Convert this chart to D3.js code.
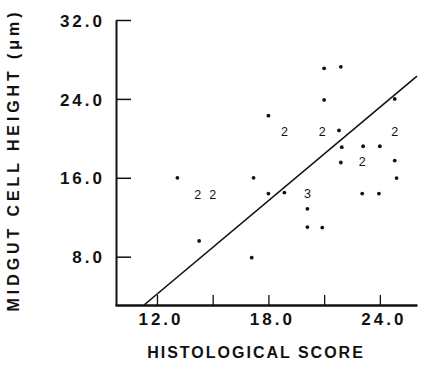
<!DOCTYPE html>
<html>
<head>
<meta charset="utf-8">
<script src="https://cdn.jsdelivr.net/npm/d3@7"></script>
<style>
  body { margin: 0; background: #fff; }
</style>
</head>
<body>
<svg id="chart" width="424" height="373"></svg>
<script>
// single points (histological score, cell height)
var scoreX = [13.1, 14.27, 17.2, 17.1, 18.0, 18.0, 21.0, 21.9, 21.0, 24.8, 21.8,
              21.95, 23.1, 24.0, 21.9, 24.8, 24.9, 18.86, 23.05, 23.95, 20.1, 20.1, 20.9];
var heightY = [16.0, 9.6, 16.0, 7.9, 22.3, 14.4, 27.1, 27.25, 23.9, 24.0, 20.8,
               19.1, 19.2, 19.2, 17.55, 17.75, 15.97, 14.5, 14.4, 14.4, 12.85, 11.0, 10.95];

// coincident points, drawn as a count
var multiX = [14.2, 15.0, 18.86, 20.9, 24.8, 23.05, 20.1];
var multiY = [14.3, 14.3, 20.7, 20.7, 20.7, 17.65, 14.4];
var multiN = ["2", "2", "2", "2", "2", "2", "3"];

// regression line y = a + b*x
var lineA = -14.76, lineB = 1.58;

var xTicks = [12, 15, 18, 21, 24];
var xLabels = ["12.0", "", "18.0", "", "24.0"];
var yTicks = [8, 16, 24, 32];
var yLabels = ["8.0", "16.0", "24.0", "32.0"];

var FONT = "'Liberation Sans', Arial, sans-serif";
var INK = "#111";

var svg = d3.select("#chart");
var x = d3.scaleLinear().domain([9.74, 26]).range([115, 417]);
var y = d3.scaleLinear().domain([3.1, 32]).range([305, 20]);

function boldLabels(sel, size, spacing) {
  sel.style("font-family", FONT)
    .style("font-size", size + "px")
    .style("font-weight", "bold")
    .style("letter-spacing", spacing + "px")
    .style("fill", INK);
}

// axes
var xAxis = d3.axisBottom(x).tickValues(xTicks).tickSize(-10).tickSizeOuter(0)
  .tickFormat(function(d, i) { return xLabels[i]; });
var yAxis = d3.axisLeft(y).tickValues(yTicks).tickSize(-15).tickSizeOuter(0)
  .tickFormat(function(d, i) { return yLabels[i]; });

var gx = svg.append("g").attr("transform", "translate(0,305)").call(xAxis);
gx.select(".domain").attr("stroke", INK).attr("stroke-width", 2.5);
gx.selectAll(".tick line").attr("stroke", INK).attr("stroke-width", 1.3);
gx.selectAll(".tick text").attr("x", 3.5).attr("y", 20).attr("dy", null)
  .call(boldLabels, 17, 3);

var gy = svg.append("g").attr("transform", "translate(116,0)").call(yAxis);
gy.select(".domain").attr("stroke", INK).attr("stroke-width", 2);
gy.selectAll(".tick line").attr("stroke", INK).attr("stroke-width", 1.5);
gy.selectAll(".tick text").attr("x", -11).attr("dy", "0.36em")
  .call(boldLabels, 17, 3);

// titles
svg.append("text")
  .attr("x", 256).attr("y", 358).attr("text-anchor", "middle")
  .text("HISTOLOGICAL SCORE")
  .call(boldLabels, 16, 2);

svg.append("text")
  .attr("transform", "translate(19,160) rotate(-90)")
  .attr("text-anchor", "middle")
  .text("MIDGUT CELL HEIGHT (μm)")
  .call(boldLabels, 16, 3.9);

// regression line
var x0 = (y.domain()[0] - lineA) / lineB;
var x1 = x.domain()[1];
svg.append("line")
  .attr("x1", x(x0)).attr("y1", y(lineA + lineB * x0))
  .attr("x2", x(x1)).attr("y2", y(lineA + lineB * x1))
  .attr("stroke", INK).attr("stroke-width", 1.6);

// points
svg.append("g").selectAll("circle")
  .data(d3.range(scoreX.length))
  .join("circle")
  .attr("cx", function(i) { return x(scoreX[i]); })
  .attr("cy", function(i) { return y(heightY[i]); })
  .attr("r", 1.9)
  .attr("fill", INK);

svg.append("g").selectAll("text")
  .data(d3.range(multiX.length))
  .join("text")
  .attr("x", function(i) { return x(multiX[i]); })
  .attr("y", function(i) { return y(multiY[i]); })
  .attr("dy", "0.36em")
  .attr("text-anchor", "middle")
  .style("font-family", FONT)
  .style("font-size", "12.5px")
  .style("fill", INK)
  .text(function(i) { return multiN[i]; });
</script>
</body>
</html>
